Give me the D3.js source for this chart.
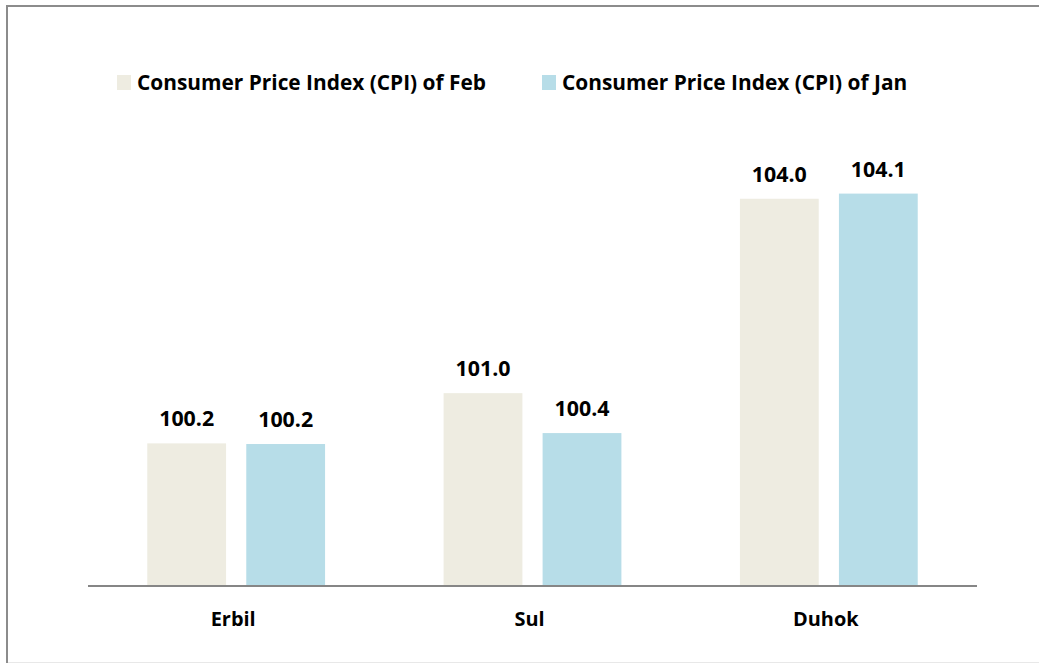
<!DOCTYPE html>
<html><head><meta charset="utf-8">
<script src="https://cdn.jsdelivr.net/npm/d3@7"></script>
<style>html,body{margin:0;padding:0;background:#fff;} svg{display:block;}</style>
</head><body>
<svg id="chart" width="1039" height="663"></svg>
<script>
const categories = ["Erbil", "Sul", "Duhok"];
const seriesNames = ["Consumer Price Index (CPI) of Feb", "Consumer Price Index (CPI) of Jan"];
const febValues = [100.2, 100.98, 104.0];
const janValues = [100.19, 100.36, 104.08];
const seriesColors = ["#EEECE1", "#B7DDE8"];

const svg = d3.select("#chart");
const FONT = "'Open Sans', Lato, sans-serif";

// frame
svg.append("line").attr("x1", 6).attr("x2", 1039).attr("y1", 6).attr("y2", 6).attr("stroke", "#8c8c8c").attr("stroke-width", 2);
svg.append("line").attr("x1", 7).attr("x2", 7).attr("y1", 5).attr("y2", 663).attr("stroke", "#8c8c8c").attr("stroke-width", 2);
svg.append("line").attr("x1", 8).attr("x2", 1039).attr("y1", 662.5).attr("y2", 662.5).attr("stroke", "#e8e8e8").attr("stroke-width", 1);

const x = d3.scaleBand().domain(categories).range([88, 977]).paddingInner(0.4).paddingOuter(0.2);
const xSub = d3.scaleBand().domain([0, 1]).range([0, x.bandwidth()]).paddingInner(0.204);
const y = d3.scaleLinear().domain([98, 106]).range([585, 70]);

function fitSize(text, weight, target) {
  const t = svg.append("text").attr("font-family", FONT).attr("font-weight", weight).attr("font-size", 20).text(text);
  const w = t.node().getComputedTextLength();
  t.remove();
  return 20 * target / w;
}
const legendSize = fitSize(seriesNames[0], "bold", 349);
const valueSize = fitSize("100.2", "bold", 55);
const catSize = fitSize("Erbil", "bold", 45);

const rows = categories.map((c, i) => ({cat: c, vals: [febValues[i], janValues[i]]}));

const g = svg.append("g");
const groups = g.selectAll("g.grp").data(rows).enter().append("g")
  .attr("transform", d => `translate(${x(d.cat)},0)`);

groups.selectAll("rect").data(d => d.vals.map((v, s) => ({v, s}))).enter().append("rect")
  .attr("x", d => xSub(d.s))
  .attr("width", xSub.bandwidth())
  .attr("y", d => y(d.v))
  .attr("height", d => y(98) - y(d.v))
  .attr("fill", d => seriesColors[d.s]);

const fmt = d3.format(".1f");
groups.selectAll("text.val").data(d => d.vals.map((v, s) => ({v, s}))).enter().append("text")
  .attr("class", "val")
  .attr("x", d => xSub(d.s) + xSub.bandwidth() / 2)
  .attr("y", d => y(d.v) - 17)
  .attr("text-anchor", "middle")
  .attr("font-family", FONT).attr("font-weight", "bold").attr("font-size", valueSize)
  .attr("fill", "#000")
  .text(d => fmt(d.v));

// axis
const xAxis = d3.axisBottom(x).tickSize(0).tickPadding(0);
const ax = svg.append("g").attr("transform", "translate(0,586)").call(xAxis);
ax.select(".domain").attr("stroke", "#868686").attr("stroke-width", 2).attr("d", "M88,0H977");
ax.selectAll(".tick text")
  .attr("font-family", FONT).attr("font-weight", "bold").attr("font-size", catSize)
  .attr("fill", "#000").attr("dy", null).attr("y", 40).attr("dx", -3);

// legend
const legendX = [117, 542];
const leg = svg.append("g");
seriesNames.forEach((name, i) => {
  leg.append("rect").attr("x", legendX[i]).attr("y", 75).attr("width", 14).attr("height", 15).attr("fill", seriesColors[i]);
  leg.append("text").attr("x", legendX[i] + 20).attr("y", 90)
    .attr("font-family", FONT).attr("font-weight", "bold").attr("font-size", legendSize)
    .attr("fill", "#000").text(name);
});
</script>
</body></html>
